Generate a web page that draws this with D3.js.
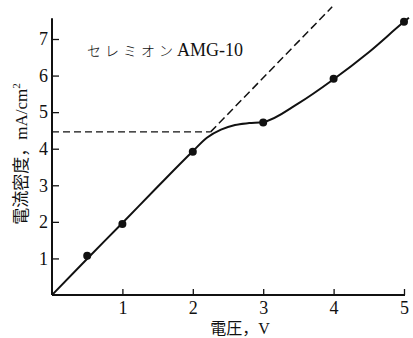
<!DOCTYPE html>
<html>
<head>
<meta charset="utf-8">
<script src="https://cdn.jsdelivr.net/npm/d3@7"></script>
<style>
  html, body { margin: 0; padding: 0; background: #fff; }
  svg { display: block; }
  text { fill: #111; font-family: "Liberation Serif", "DejaVu Serif", "Noto Sans CJK JP", serif; }
</style>
</head>
<body>
<svg id="chart" width="413" height="338"></svg>
<script>
// Measured points (voltage V, current density mA/cm²)
const pointV = [0.5, 1, 2, 3, 4, 5];
const pointJ = [1.07, 1.94, 3.92, 4.72, 5.91, 7.47];

// Smooth characteristic curve drawn through the measurements
const curveV = [0, 0.5, 1, 1.5, 2, 2.2, 2.4, 2.6, 2.8, 3, 3.5, 4, 4.5, 5, 5.07];
const curveJ = [0, 0.99, 1.97, 2.96, 3.93, 4.3, 4.52, 4.65, 4.7, 4.73, 5.24, 5.9, 6.64, 7.47, 7.58];

// Linear (ohmic) extrapolation and the saturation level
const ohmSlope = 1.98;
const saturationJ = 4.46;
const ohmEndV = 3.98;

const xTicks = [1, 2, 3, 4, 5];
const yTicks = [1, 2, 3, 4, 5, 6, 7];

const xLabel = "電圧，V";
const yLabel = "電流密度，mA/cm";
const seriesName = "セレミオン";
const seriesCode = "AMG-10";

const svg = d3.select("#chart");

const x = d3.scaleLinear().domain([0, 5]).range([52, 404]);
const y = d3.scaleLinear().domain([0, 7]).range([295, 39]);

const ink = "#111";
const intFmt = d3.format("d");

// Axes
const xAxis = d3.axisBottom(x).tickValues(xTicks).tickFormat(intFmt)
  .tickSizeInner(-6).tickSizeOuter(0).tickPadding(6);
const yAxis = d3.axisLeft(y).tickValues(yTicks).tickFormat(intFmt)
  .tickSizeInner(-7).tickSizeOuter(0).tickPadding(4);

const gx = svg.append("g").attr("transform", `translate(0,${y(0)})`).call(xAxis);
const gy = svg.append("g").attr("transform", `translate(${x(0)},0)`).call(yAxis);
[gx, gy].forEach(g => {
  g.select(".domain").remove();
  g.selectAll(".tick line").attr("stroke", ink).attr("stroke-width", 1.3);
  g.selectAll(".tick text").attr("font-size", 18).attr("fill", ink)
    .attr("font-family", '"Liberation Serif", serif');
});

// Axis lines
svg.append("line")
  .attr("x1", x(0)).attr("x2", x(5) + 1)
  .attr("y1", y(0)).attr("y2", y(0))
  .attr("stroke", ink).attr("stroke-width", 2);
svg.append("line")
  .attr("x1", x(0)).attr("x2", x(0))
  .attr("y1", y(0)).attr("y2", y(7.57))
  .attr("stroke", ink).attr("stroke-width", 2);

// Dashed guides: saturation level and ohmic extrapolation
const crossV = saturationJ / ohmSlope;
svg.append("line")
  .attr("x1", x(0)).attr("x2", x(crossV))
  .attr("y1", y(saturationJ)).attr("y2", y(saturationJ))
  .attr("stroke", ink).attr("stroke-width", 1.3)
  .attr("stroke-dasharray", "7,4");
svg.append("line")
  .attr("x1", x(crossV)).attr("y1", y(saturationJ))
  .attr("x2", x(ohmEndV)).attr("y2", y(ohmSlope * ohmEndV))
  .attr("stroke", ink).attr("stroke-width", 1.5)
  .attr("stroke-dasharray", "8,4");

// Characteristic curve
const curveData = curveV.map((v, i) => [v, curveJ[i]]);
const line = d3.line()
  .x(d => x(d[0]))
  .y(d => y(d[1]))
  .curve(d3.curveMonotoneX);
svg.append("path")
  .datum(curveData)
  .attr("d", line)
  .attr("fill", "none")
  .attr("stroke", ink)
  .attr("stroke-width", 2);

// Measured points
svg.selectAll("circle.pt")
  .data(pointV.map((v, i) => [v, pointJ[i]]))
  .join("circle")
  .attr("class", "pt")
  .attr("cx", d => x(d[0]))
  .attr("cy", d => y(d[1]))
  .attr("r", 4)
  .attr("fill", ink);

// Series label
const lbl = svg.append("text").attr("x", 87).attr("y", 56);
lbl.append("tspan")
  .attr("font-family", '"Noto Sans CJK JP", sans-serif')
  .attr("font-size", 14)
  .attr("font-weight", 300)
  .attr("letter-spacing", 4)
  .text(seriesName);
lbl.append("tspan")
  .attr("font-size", 18)
  .attr("font-family", '"Liberation Serif", serif')
  .text(seriesCode);

// Axis titles
svg.append("text")
  .attr("x", 240).attr("y", 334)
  .attr("text-anchor", "middle")
  .attr("font-size", 16)
  .text(xLabel);

const yt = svg.append("text")
  .attr("transform", "translate(27,154) rotate(-90)")
  .attr("text-anchor", "middle")
  .attr("font-size", 17);
yt.append("tspan").text(yLabel);
yt.append("tspan").attr("font-size", 11).attr("dy", -7).text("2");
</script>
</body>
</html>
